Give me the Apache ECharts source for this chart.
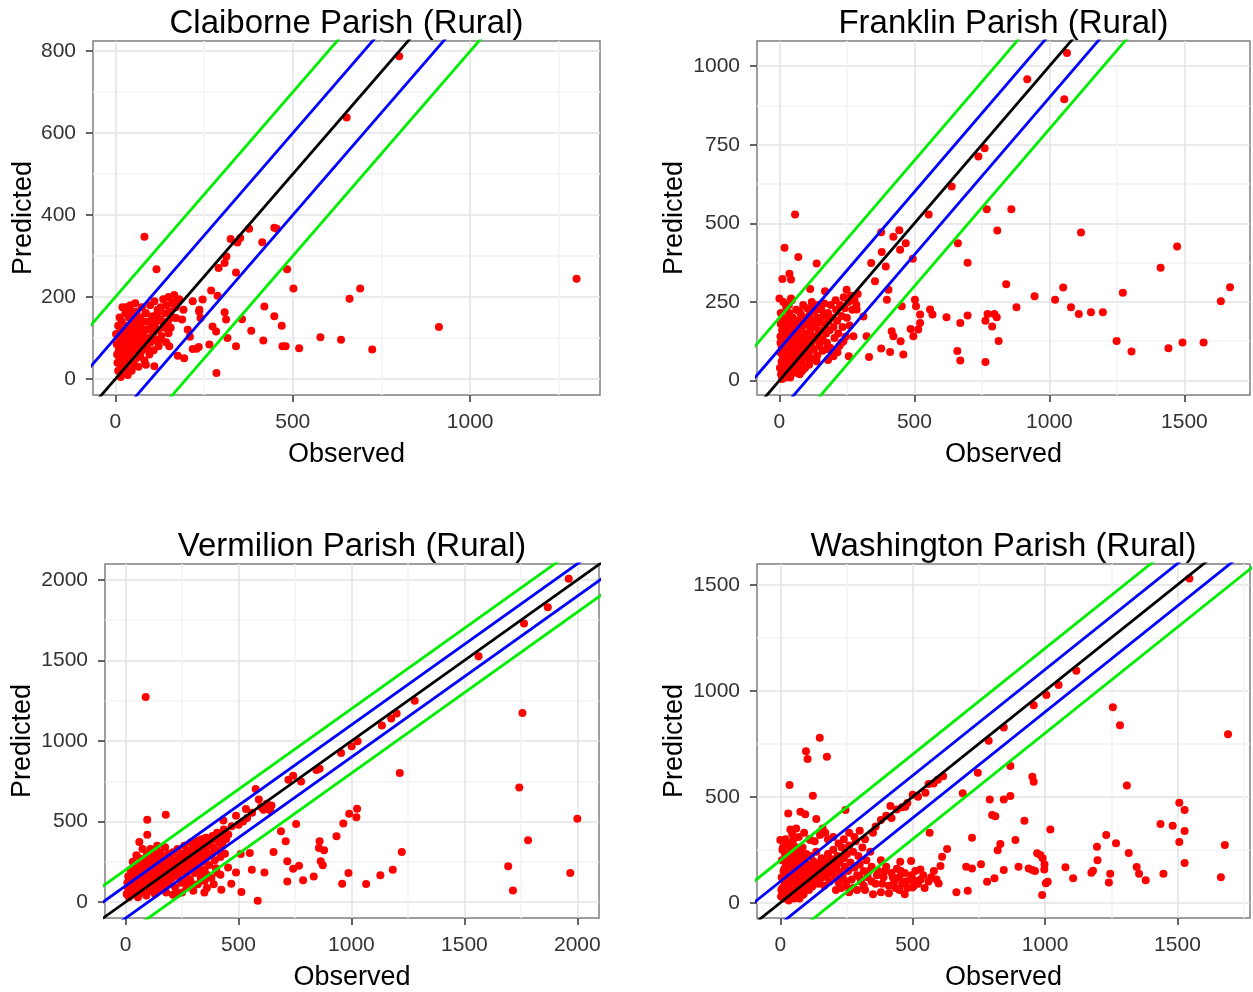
<!DOCTYPE html>
<html>
<head>
<meta charset="utf-8">
<title>Observed vs Predicted - Rural Parishes</title>
<script src="https://cdn.jsdelivr.net/npm/echarts@6.0.0/dist/echarts.min.js"></script>
<style>
    html, body { margin: 0; padding: 0; background: #fff; }
    #chart { width: 1253px; height: 992px; }
</style>
</head>
<body>
<div id="chart"></div>
<script>
// panel titles
var parishNames = ['Claiborne Parish (Rural)', 'Franklin Parish (Rural)', 'Vermilion Parish (Rural)', 'Washington Parish (Rural)'];

// tick labels (major) and minor grid values
var xTicks = [[0, 500, 1000], [0, 500, 1000, 1500], [0, 500, 1000, 1500, 2000], [0, 500, 1000, 1500]];
var xMinorTicks = [[250, 750, 1250], [250, 750, 1250, 1750], [250, 750, 1250, 1750], [250, 750, 1250, 1750]];
var yTicks = [[0, 200, 400, 600, 800], [0, 250, 500, 750, 1000], [0, 500, 1000, 1500, 2000], [0, 500, 1000, 1500]];
var yMinorTicks = [[100, 300, 500, 700], [125, 375, 625, 875], [250, 750, 1250, 1750], [250, 750, 1250]];

// axis limits
var xLimits = [[-63, 1366], [-83, 1743], [-91, 2096], [-88, 1774]];
var yLimits = [[-39, 825], [-46, 1080], [-99, 2099], [-72, 1598]];

// reference lines y = x + offset
var lineOffsets = [200, -200, 100, -100, 0];

// observed / predicted pairs
var claiborne = [
    [800, 788], [652, 638], [1300, 245], [912, 127], [724, 72], [636, 96], [578, 102], [690, 221], [660, 196], [502, 221], [484, 268],
    [455, 367], [448, 369], [377, 367], [352, 344], [344, 333], [325, 342], [414, 334], [313, 299], [308, 283], [340, 260], [291, 271],
    [82, 347], [116, 268], [420, 177], [448, 153], [469, 130], [383, 118], [417, 94], [340, 80], [471, 80], [480, 80], [518, 75], [285, 15],
    [308, 163], [312, 145], [274, 128], [284, 116], [265, 84], [235, 78], [218, 73], [194, 51], [210, 103], [240, 149], [237, 169], [218, 190],
    [246, 194], [270, 216], [288, 203], [188, 145], [192, 169], [180, 195], [162, 186], [171, 149], [204, 120], [119, 169], [86, 161], [105, 153],
    [124, 96], [152, 80], [110, 31], [86, 35], [176, 57], [150, 112], [316, 100], [229, 74], [357, 146], [236, 165],
    [2, 110], [4, 85], [5, 60], [6, 40], [8, 20], [8, 130], [10, 100], [10, 70], [12, 50], [14, 115], [15, 5], [16, 85], [18, 30], [18, 140],
    [20, 65], [20, 100], [22, 15], [24, 120], [25, 45], [26, 80], [28, 160], [28, 100], [30, 25], [30, 175], [32, 60], [33, 130], [35, 90],
    [35, 10], [36, 110], [38, 150], [38, 40], [40, 75], [42, 180], [42, 120], [44, 55], [45, 95], [46, 20], [48, 135], [50, 70], [50, 110],
    [52, 35], [54, 150], [55, 85], [56, 125], [58, 50], [60, 100], [60, 165], [62, 70], [64, 140], [65, 30], [66, 115], [68, 85], [70, 150],
    [70, 55], [72, 125], [74, 95], [75, 175], [76, 70], [78, 110], [80, 140], [82, 45], [84, 95], [85, 160], [88, 120], [90, 75], [92, 140],
    [94, 100], [96, 60], [98, 180], [100, 125], [100, 90], [104, 150], [106, 110], [108, 70], [110, 190], [112, 135], [115, 95], [118, 160],
    [120, 120], [122, 80], [125, 145], [128, 175], [130, 105], [133, 140], [135, 195], [138, 125], [140, 160], [143, 90], [145, 180],
    [148, 140], [150, 200], [153, 165], [156, 125], [160, 185], [163, 150], [166, 205], [170, 175], [174, 190], [44, 165], [56, 185],
    [20, 175], [12, 150]
];
var franklin = [
    [1065, 1042], [918, 958], [1055, 895], [760, 739], [737, 713], [638, 617], [553, 528], [768, 545], [859, 545], [807, 477], [1117, 471],
    [1473, 426], [1412, 359], [1669, 297], [1635, 252], [1272, 279], [1051, 296], [945, 268], [878, 233], [840, 306], [1021, 257], [1080, 233],
    [1109, 212], [1154, 217], [1198, 217], [1249, 126], [1304, 92], [1441, 103], [1493, 121], [1571, 121], [812, 126], [763, 59], [697, 207],
    [661, 437], [697, 375], [619, 201], [670, 183], [659, 94], [670, 64], [771, 212], [788, 172], [763, 190], [796, 212], [805, 201],
    [58, 528], [19, 422], [70, 393], [138, 372], [11, 323], [37, 340], [43, 321], [0, 261], [43, 261], [114, 291], [169, 284], [249, 289],
    [340, 374], [377, 472], [422, 457], [444, 478], [468, 437], [447, 416], [379, 409], [394, 363], [494, 387], [558, 226], [567, 210],
    [521, 210], [521, 183], [486, 164], [514, 162], [496, 141], [449, 125], [459, 83], [410, 91], [377, 102], [332, 75], [502, 257], [506, 236],
    [453, 236], [398, 257], [404, 289], [354, 316], [311, 204], [286, 226], [323, 141], [274, 141], [237, 125], [200, 77], [138, 61], [188, 104],
    [416, 157], [422, 141], [257, 77],
    [2, 40], [3, 90], [4, 140], [5, 180], [6, 20], [8, 110], [8, 60], [10, 160], [12, 200], [12, 80], [14, 35], [15, 130], [16, 100], [18, 175],
    [20, 55], [20, 145], [22, 10], [24, 120], [25, 85], [26, 195], [28, 40], [30, 160], [32, 105], [34, 70], [35, 140], [36, 215], [38, 25],
    [40, 180], [42, 95], [44, 125], [45, 55], [48, 160], [50, 200], [50, 80], [52, 110], [54, 140], [55, 30], [58, 180], [60, 65], [60, 120],
    [62, 225], [65, 95], [66, 155], [68, 45], [70, 190], [72, 130], [74, 80], [75, 110], [78, 165], [80, 210], [82, 60], [84, 140], [86, 100],
    [88, 240], [90, 175], [92, 120], [95, 75], [96, 200], [98, 150], [100, 105], [103, 230], [105, 180], [108, 130], [110, 90], [112, 210],
    [115, 160], [118, 120], [120, 250], [122, 190], [125, 140], [128, 100], [130, 220], [133, 170], [136, 130], [140, 200], [142, 240],
    [145, 150], [148, 110], [150, 185], [155, 225], [158, 160], [160, 130], [163, 205], [166, 245], [170, 180], [173, 150], [176, 120],
    [180, 215], [183, 190], [186, 160], [190, 240], [193, 95], [196, 200], [200, 170], [204, 135], [208, 255], [210, 225], [214, 190],
    [218, 150], [222, 110], [225, 240], [230, 205], [234, 170], [238, 265], [242, 230], [246, 140], [250, 200], [255, 250], [260, 175],
    [265, 270], [270, 225], [278, 255], [285, 240], [290, 275], [15, 250], [25, 235], [35, 240], [5, 215], [46, 255], [10, 5], [28, 15],
    [40, 10], [58, 25], [75, 20], [18, 65], [30, 48], [95, 40], [110, 50], [125, 70], [140, 80], [160, 95], [175, 100], [180, 65], [215, 90],
    [230, 120], [4, 120], [14, 190], [24, 60], [34, 100], [44, 200], [54, 50], [64, 170], [74, 220], [84, 30], [94, 130], [104, 70],
    [114, 185], [124, 230]
];
var vermilion = [
    [1962, 2008], [1869, 1830], [1764, 1729], [1563, 1526], [1280, 1250], [1200, 1170], [1176, 1139], [1135, 1097], [1027, 998], [1001, 967],
    [954, 925], [859, 828], [845, 820], [777, 749], [742, 785], [721, 760], [590, 636], [576, 702], [646, 600], [611, 573], [533, 578],
    [538, 522], [489, 536], [433, 507], [89, 1273], [1757, 1174], [1743, 712], [1214, 801], [1025, 580], [1022, 526], [990, 549], [964, 487],
    [934, 408], [1223, 311], [1782, 383], [2000, 518], [1694, 222], [1715, 72], [1969, 180], [1183, 201], [1128, 166], [1065, 112], [987, 180],
    [959, 114], [879, 321], [859, 377], [856, 335], [833, 159], [873, 228], [864, 253], [786, 135], [768, 226], [742, 207], [716, 253],
    [755, 484], [709, 377], [688, 439], [655, 311], [615, 184], [716, 128], [585, 8], [513, 62], [489, 184], [468, 114], [454, 215], [424, 77],
    [405, 184], [360, 87], [349, 60], [550, 304], [559, 201], [510, 298], [178, 542], [96, 511], [96, 418], [61, 373], [210, 46],
    [600, 590], [625, 610], [640, 570], [560, 555], [520, 500], [470, 470], [500, 480], [440, 440], [455, 420], [415, 400],
    [5, 50], [8, 120], [10, 90], [12, 160], [15, 30], [18, 140], [20, 70], [22, 200], [25, 110], [28, 45], [30, 170], [32, 250], [35, 90],
    [38, 140], [40, 60], [42, 210], [45, 120], [48, 290], [50, 80], [52, 170], [55, 30], [58, 230], [60, 130], [62, 100], [65, 270], [68, 190],
    [70, 60], [72, 150], [75, 330], [78, 110], [80, 220], [82, 80], [85, 180], [88, 260], [90, 130], [92, 40], [95, 300], [98, 200], [100, 100],
    [102, 160], [105, 240], [108, 70], [110, 330], [112, 190], [115, 130], [118, 270], [120, 90], [122, 210], [125, 160], [128, 300], [130, 50],
    [132, 240], [135, 120], [138, 190], [140, 350], [142, 150], [145, 270], [148, 80], [150, 220], [152, 180], [155, 310], [158, 130],
    [160, 250], [162, 200], [165, 100], [168, 280], [170, 160], [172, 230], [175, 340], [178, 190], [180, 60], [182, 260], [185, 140],
    [188, 220], [190, 300], [192, 170], [195, 110], [198, 240], [200, 270], [203, 200], [206, 150], [210, 310], [213, 230], [216, 180],
    [220, 90], [223, 260], [226, 210], [230, 330], [233, 160], [236, 280], [240, 240], [243, 190], [246, 120], [250, 300], [253, 260],
    [256, 210], [260, 350], [263, 280], [266, 230], [270, 170], [273, 320], [276, 250], [280, 200], [283, 300], [286, 140], [290, 370],
    [293, 270], [296, 330], [300, 230], [303, 290], [306, 180], [310, 350], [313, 260], [316, 310], [320, 380], [323, 220], [326, 290],
    [330, 340], [333, 150], [336, 390], [340, 300], [343, 250], [346, 360], [350, 200], [353, 320], [356, 400], [360, 280], [365, 350],
    [370, 230], [375, 380], [380, 300], [385, 410], [390, 340], [395, 260], [400, 390], [405, 430], [410, 320], [415, 370], [420, 280],
    [425, 410], [430, 350], [435, 450], [440, 300], [445, 390], [380, 150], [350, 130], [320, 110], [300, 70], [270, 90], [250, 60],
    [230, 50], [260, 130], [290, 120], [330, 190], [360, 170], [400, 210], [420, 170], [390, 110]
];
var washington = [
    [149, 778], [97, 715], [103, 678], [176, 689], [35, 555], [123, 505], [30, 421], [76, 429], [94, 418], [136, 395], [246, 437], [38, 346],
    [45, 325], [0, 296], [113, 296], [170, 330], [416, 456], [472, 453], [548, 519], [615, 597], [579, 563], [595, 580], [560, 560], [746, 613],
    [787, 764], [844, 827], [869, 645], [952, 594], [957, 571], [957, 932], [1005, 980], [1051, 1027], [1118, 1094], [791, 487], [844, 487],
    [869, 503], [800, 414], [812, 408], [922, 387], [1020, 346], [724, 307], [689, 516], [564, 330], [630, 253], [611, 217], [529, 157],
    [453, 193], [665, 49], [708, 57], [702, 170], [724, 162], [758, 182], [781, 99], [809, 115], [821, 248], [831, 277], [888, 296], [900, 170],
    [938, 162], [952, 155], [962, 150], [970, 233], [982, 225], [997, 157], [1010, 99], [989, 36], [1077, 167], [1106, 115], [1181, 151],
    [1196, 264], [844, 154], [605, 173], [494, 197], [504, 107], [499, 72], [598, 91],
    [1545, 1530], [1256, 922], [1283, 837], [1691, 795], [1309, 553], [1507, 472], [1527, 437], [1436, 371], [1482, 363], [1527, 338],
    [1507, 287], [1679, 272], [1231, 319], [1268, 281], [1316, 235], [1198, 200], [1175, 142], [1246, 137], [1241, 95], [1346, 169],
    [1355, 137], [1380, 106], [1447, 137], [1527, 188], [1664, 120], [991, 210], [998, 180], [1003, 92],
    [3, 30], [5, 120], [6, 200], [8, 70], [10, 260], [12, 150], [14, 20], [15, 100], [18, 230], [20, 50], [22, 180], [24, 130], [25, 280],
    [28, 85], [30, 210], [32, 10], [34, 160], [35, 110], [38, 250], [40, 60], [42, 190], [44, 140], [46, 30], [48, 220], [50, 95], [52, 170],
    [54, 265], [56, 120], [58, 45], [60, 200], [62, 150], [64, 80], [66, 240], [68, 110], [70, 180], [72, 20], [74, 140], [76, 225], [78, 65],
    [80, 170], [82, 100], [84, 260], [86, 130], [88, 40], [90, 200], [92, 155], [95, 90], [98, 230], [100, 120], [103, 60], [106, 180],
    [109, 140], [112, 100], [115, 220], [118, 160], [120, 75], [123, 130], [126, 195], [130, 105], [133, 160], [136, 240], [140, 130],
    [143, 90], [146, 185], [150, 150], [153, 115], [156, 210], [160, 170], [163, 135], [166, 80], [170, 195], [173, 150], [176, 120],
    [180, 230], [183, 175], [186, 100], [190, 160], [193, 205], [196, 140], [200, 250], [204, 185], [208, 120], [212, 160], [216, 220],
    [220, 95], [224, 190], [228, 145], [232, 260], [236, 120], [240, 210], [244, 170], [248, 80], [252, 230], [256, 150], [260, 270],
    [265, 190], [270, 110], [275, 240], [280, 165], [285, 290], [290, 130], [295, 220], [300, 180], [305, 100], [310, 260], [315, 150],
    [320, 300], [325, 200], [330, 120], [340, 240], [345, 170], [350, 330], [360, 90], [370, 150], [380, 200], [390, 120], [400, 170],
    [410, 80], [420, 140], [430, 100], [440, 160], [450, 120], [460, 90], [470, 140], [480, 70], [490, 110], [510, 150], [520, 90], [540, 130],
    [560, 100], [580, 150], [360, 360], [380, 390], [400, 410], [420, 400], [440, 440], [460, 450], [480, 470], [500, 510], [520, 500],
    [240, 300], [260, 330], [280, 310], [300, 340], [200, 310], [220, 280], [180, 300], [160, 350], [150, 320], [130, 290], [110, 300],
    [90, 330], [70, 310], [60, 350], [50, 300], [290, 60], [320, 60], [260, 50], [230, 70], [350, 40], [380, 50], [410, 45], [450, 60], [470, 40],
    [10, 40], [16, 160], [26, 75], [36, 190], [48, 120], [58, 240], [70, 90], [84, 200], [96, 150], [108, 60], [20, 300], [40, 280], [8, 250],
    [210, 60], [225, 110], [250, 100], [275, 70], [300, 120], [315, 80], [335, 150], [345, 100], [365, 130], [385, 90], [395, 150], [425, 120],
    [435, 70], [455, 150], [475, 100], [495, 130], [505, 80], [530, 110], [545, 70], [570, 120], [590, 110],
    [4, 60], [12, 110], [22, 45], [30, 150], [40, 230], [52, 20], [62, 100], [72, 250], [82, 35], [94, 60]
];
var panelData = [claiborne, franklin, vermilion, washington];

// layout and styling
var panelBoxes = [
    { left: 93, top: 41, width: 507, height: 354, yNameGap: 56 },
    { left: 757, top: 41, width: 493, height: 354, yNameGap: 69 },
    { left: 105, top: 564, width: 494, height: 354, yNameGap: 69 },
    { left: 757, top: 564, width: 493, height: 354, yNameGap: 69 }
];
var lineColors = ['#00ee00', '#00ee00', '#0000ff', '#0000ff', '#000000'];
var fontName = '"Liberation Sans", Arial, sans-serif';

var chart = echarts.init(document.getElementById('chart'));

var grids = [], xAxes = [], yAxes = [], titles = [], series = [];

function plainNumber(v) {
    return String(v);
}

function majorAxis(i, ticks, limits, name, gap) {
    return {
        type: 'value', gridIndex: i, min: limits[0], max: limits[1],
        name: name, nameLocation: 'middle', nameGap: gap, nameMoveOverlap: false,
        nameTextStyle: { fontFamily: fontName, fontSize: 27, color: '#000' },
        axisLine: { show: false, onZero: false },
        axisTick: { show: true, length: 7, customValues: ticks, lineStyle: { color: '#333', width: 1.5 } },
        axisLabel: { show: true, customValues: ticks, formatter: plainNumber, fontFamily: fontName, fontSize: 21, color: '#333', margin: 17 },
        splitLine: { show: true, lineStyle: { color: '#e3e3e3', width: 1.5 } }
    };
}
function minorAxis(i, ticks, limits) {
    return {
        type: 'value', gridIndex: i, min: limits[0], max: limits[1],
        axisLine: { show: false, onZero: false },
        axisTick: { show: false, customValues: ticks },
        axisLabel: { show: false, customValues: ticks },
        splitLine: { show: true, lineStyle: { color: '#f3f3f3', width: 1.5 } }
    };
}

panelBoxes.forEach(function(b, i) {
    grids.push({
        left: b.left, top: b.top, width: b.width, height: b.height,
        show: true, borderColor: '#7f7f7f', borderWidth: 1.5, backgroundColor: '#fff',
        containLabel: false, outerBoundsMode: 'none'
    });
    // title padding (5px) is taken off so the text sits over the panel centre
    titles.push({
        text: parishNames[i], left: b.left + b.width / 2 - 5, top: b.top - 39, textAlign: 'center',
        textStyle: { fontFamily: fontName, fontSize: 33, fontWeight: 'normal', color: '#000' }
    });

    var xa = majorAxis(i, xTicks[i], xLimits[i], 'Observed', 46);
    xa.position = 'bottom';
    var ya = majorAxis(i, yTicks[i], yLimits[i], 'Predicted', b.yNameGap);
    ya.position = 'left';
    var xm = minorAxis(i, xMinorTicks[i], xLimits[i]);
    xm.position = 'bottom';
    var ym = minorAxis(i, yMinorTicks[i], yLimits[i]);
    ym.position = 'left';
    xAxes.push(xm, xa);
    yAxes.push(ym, ya);

    series.push({
        type: 'scatter', xAxisIndex: 2 * i + 1, yAxisIndex: 2 * i + 1,
        data: panelData[i], symbol: 'circle', symbolSize: 8,
        itemStyle: { color: '#ff0000', opacity: 1 }, silent: true, z: 3
    });

    // lines span beyond the visible area and are clipped by the grid
    var lo = Math.min(xLimits[i][0], yLimits[i][0]) - 400;
    var hi = Math.max(xLimits[i][1], yLimits[i][1]) + 400;
    lineOffsets.forEach(function(off, k) {
        series.push({
            type: 'line', xAxisIndex: 2 * i + 1, yAxisIndex: 2 * i + 1,
            data: [[lo, lo + off], [hi, hi + off]],
            showSymbol: false, symbol: 'none', clip: true, silent: true, z: 4,
            lineStyle: { color: lineColors[k], width: 2.8 }
        });
    });
});

chart.setOption({
    animation: false,
    backgroundColor: '#fff',
    title: titles,
    grid: grids,
    xAxis: xAxes,
    yAxis: yAxes,
    series: series
});
</script>
</body>
</html>
